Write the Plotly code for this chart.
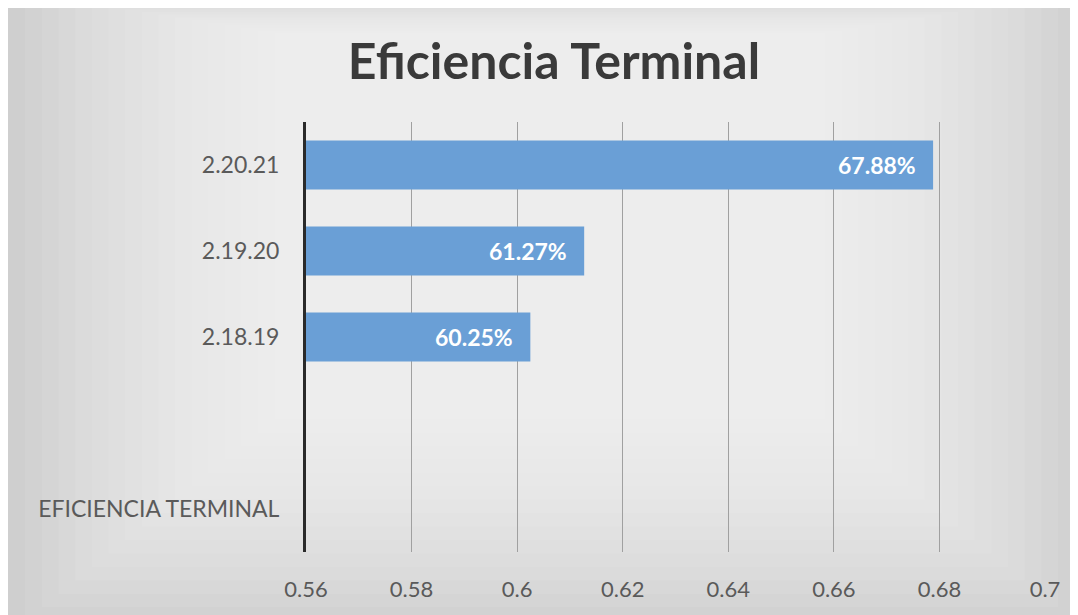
import plotly.graph_objects as go

# Data
categories = ["EFICIENCIA TERMINAL", " ", "2.18.19", "2.19.20", "2.20.21"]
bar_labels = ["2.18.19", "2.19.20", "2.20.21"]
bar_values = [0.6025, 0.6127, 0.6788]
x_ticks = [0.56, 0.58, 0.60, 0.62, 0.64, 0.66, 0.68, 0.70]
x_ticktext = ["0.56", "0.58", "0.6", "0.62", "0.64", "0.66", "0.68", "0.7"]
title_text = "Eficiencia Terminal"

FONT = "Lato"
BAR = "#6a9fd6"
BASE = 0.56
W, H = 1070, 607  # page body has an 8px default margin

fig = go.Figure()
fig.add_trace(go.Bar(
    y=bar_labels, x=[v - BASE for v in bar_values], base=BASE,
    orientation="h", width=0.57,
    marker=dict(color=BAR, line=dict(width=0)),
    hoverinfo="skip",
))

annotations = []
for lab, v in zip(bar_labels, bar_values):
    annotations.append(dict(x=v, y=lab, xref="x", yref="y", text=f"{v*100:.2f}%",
                            showarrow=False, xanchor="right", yanchor="middle", xshift=-15,
                            font=dict(family=FONT, size=23, color="white", weight="bold")))

# background gradient: nested translucent white rectangles
shapes = []
n = 16
for i in range(n):
    f = i / n
    shapes.append(dict(type="rect", xref="paper", yref="paper",
                       x0=-0.38 + 0.36 * f, x1=1.04 - 0.36 * f,
                       y0=-0.16 + 0.5 * f, y1=1.3 - 0.1 * f,
                       fillcolor="white", opacity=0.08, line=dict(width=0),
                       layer="below"))

fig.update_layout(
    width=W, height=H,
    margin=dict(l=298, r=33, t=114, b=63),
    paper_bgcolor="#cfcfcf",
    plot_bgcolor="rgba(0,0,0,0)",
    showlegend=False,
    shapes=shapes,
    annotations=annotations,
    title=dict(text=title_text, x=546 / W, xanchor="center", y=1 - 53 / H, yanchor="middle",
               xref="container", yref="container",
               font=dict(family=FONT, size=50, color="#3a3a3a", weight="bold")),
    font=dict(family=FONT),
    xaxis=dict(range=[0.56, 0.7], tickvals=x_ticks, ticktext=x_ticktext,
               showgrid=True, gridcolor="#a0a0a0", gridwidth=1.2,
               zeroline=False, showline=False, ticks="",
               ticklabelstandoff=22, automargin=False,
               tickfont=dict(family=FONT, size=22, color="#5a5a5a")),
    yaxis=dict(type="category", categoryorder="array", categoryarray=categories,
               range=[-0.5, 4.5], tickvals=["EFICIENCIA TERMINAL", "2.18.19", "2.19.20", "2.20.21"],
               showgrid=False, zeroline=False,
               showline=True, linecolor="#2a2a2a", linewidth=3,
               ticks="", ticklabelstandoff=19, automargin=False,
               tickfont=dict(family=FONT, size=23, color="#5a5a5a")),
)
fig.write_html("out.html")
